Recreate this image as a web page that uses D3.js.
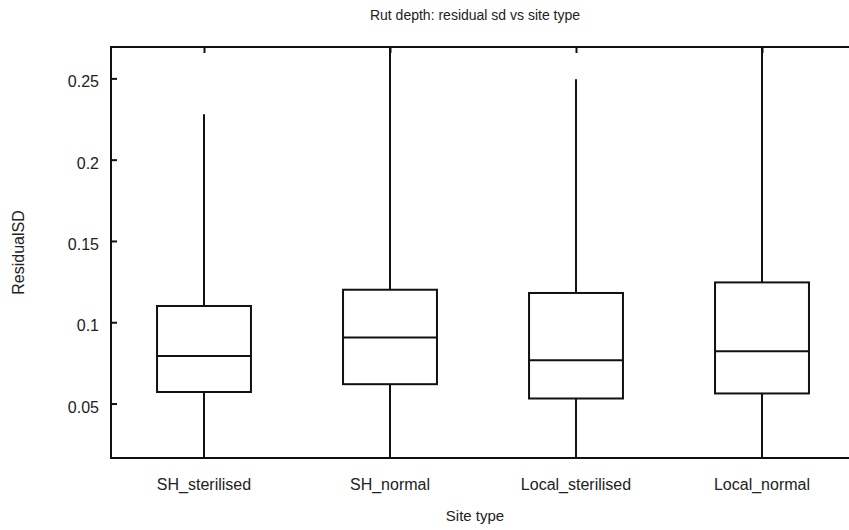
<!DOCTYPE html>
<html><head><meta charset="utf-8">
<script src="https://cdn.jsdelivr.net/npm/d3@7"></script>
<style>body{margin:0;background:#fff}svg{display:block;font-family:"Liberation Sans",Arial,sans-serif}</style>
</head><body>
<svg id="c" width="849" height="530"></svg>
<script>
const categories = ["SH_sterilised","SH_normal","Local_sterilised","Local_normal"];
const whiskerLow = [0.005, 0.005, 0.005, 0.005];
const q1 = [0.0571, 0.0619, 0.0531, 0.0562];
const median = [0.0793, 0.0906, 0.0766, 0.0822];
const q3 = [0.1100, 0.1200, 0.1180, 0.1245];
const whiskerHigh = [0.228, 0.29, 0.2495, 0.29];
const yTicks = [0.05, 0.1, 0.15, 0.2, 0.25];
const yTickLabels = ["0.05","0.1","0.15","0.2","0.25"];

const svg = d3.select("#c");
const m = {left:111, top:47, right:855, bottom:458};
const x = d3.scalePoint().domain(categories).range([m.left, m.right]).padding(0.5);
const y = d3.scaleLinear().domain([0.0165, 0.2693]).range([m.bottom, m.top]);
const step = x.step();
const bw = step * 0.505;

const data = categories.map((c,i)=>({c, lo:whiskerLow[i], q1:q1[i], med:median[i], q3:q3[i], hi:whiskerHigh[i]}));

svg.append("defs").append("clipPath").attr("id","clip").append("rect")
  .attr("x",m.left).attr("y",m.top).attr("width",m.right-m.left).attr("height",m.bottom-m.top);

const g = svg.append("g").attr("clip-path","url(#clip)");
const stroke = "#111", sw = 2;
data.forEach(d=>{
  const cx = x(d.c);
  g.append("line").attr("x1",cx).attr("x2",cx).attr("y1",y(d.q3)).attr("y2",y(d.hi)).attr("stroke",stroke).attr("stroke-width",sw);
  g.append("line").attr("x1",cx).attr("x2",cx).attr("y1",y(d.q1)).attr("y2",y(d.lo)).attr("stroke",stroke).attr("stroke-width",sw);
  g.append("rect").attr("x",cx-bw/2).attr("y",y(d.q3)).attr("width",bw).attr("height",y(d.q1)-y(d.q3))
    .attr("fill","none").attr("stroke",stroke).attr("stroke-width",sw);
  g.append("line").attr("x1",cx-bw/2).attr("x2",cx+bw/2).attr("y1",y(d.med)).attr("y2",y(d.med)).attr("stroke",stroke).attr("stroke-width",sw);
});

// frame
svg.append("rect").attr("x",m.left).attr("y",m.top).attr("width",m.right-m.left).attr("height",m.bottom-m.top)
  .attr("fill","none").attr("stroke",stroke).attr("stroke-width",sw);

// y axis (ticks inward)
const yAxis = d3.axisRight(y).tickValues(yTicks).tickSize(6).tickFormat("");
const ya = svg.append("g").attr("transform",`translate(${m.left},0)`).call(yAxis);
ya.select(".domain").remove();
ya.selectAll("line").attr("stroke",stroke).attr("stroke-width",sw);
svg.append("g").selectAll("text").data(yTicks).join("text")
  .attr("x",m.left-12).attr("y",d=>y(d)+9).attr("text-anchor","end")
  .attr("font-size",16).attr("fill","#222").text((d,i)=>yTickLabels[i]);

// top ticks inward
const xTop = d3.axisBottom(x).tickSize(6).tickFormat("");
const xt = svg.append("g").attr("transform",`translate(0,${m.top})`).call(xTop);
xt.select(".domain").remove();
xt.selectAll("line").attr("stroke",stroke).attr("stroke-width",sw);

// x labels
svg.append("g").selectAll("text").data(categories).join("text")
  .attr("x",d=>x(d)).attr("y",490).attr("text-anchor","middle")
  .attr("font-size",16).attr("fill","#222").text(d=>d);

const midX = (m.left+m.right)/2 - 8;
svg.append("text").attr("x",midX).attr("y",20).attr("text-anchor","middle").attr("font-size",14).attr("fill","#222")
  .text("Rut depth: residual sd vs site type");
svg.append("text").attr("x",midX).attr("y",521).attr("text-anchor","middle").attr("font-size",15).attr("fill","#222")
  .text("Site type");
svg.append("text").attr("transform",`translate(24,${(m.top+m.bottom)/2}) rotate(-90)`).attr("text-anchor","middle")
  .attr("font-size",16).attr("fill","#222").text("ResidualSD");
</script>
</body></html>
